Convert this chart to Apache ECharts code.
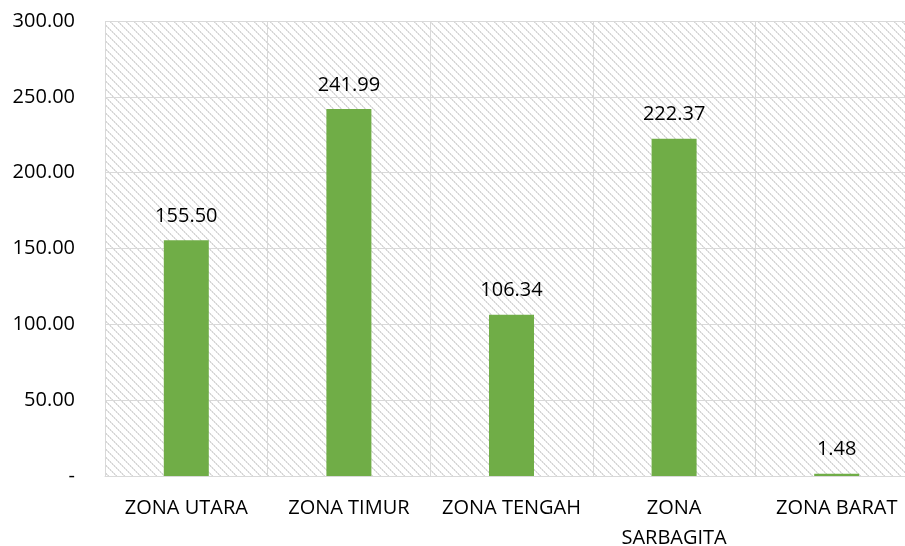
<!DOCTYPE html>
<html><head><meta charset="utf-8">
<script src="https://cdn.jsdelivr.net/npm/echarts@6/dist/echarts.min.js"></script>
<style>html,body{margin:0;padding:0;background:#fff}#c{width:905px;height:546px}</style>
</head><body><div id="c"></div>
<script>
var categories = ['ZONA UTARA', 'ZONA TIMUR', 'ZONA TENGAH', 'ZONA SARBAGITA', 'ZONA BARAT'];
var values = [155.50, 241.99, 106.34, 222.37, 1.48];
var yTicks = [0, 50, 100, 150, 200, 250, 300];

var pc = document.createElement('canvas');
pc.width = 8; pc.height = 8;
var ctx = pc.getContext('2d');
ctx.fillStyle = '#ffffff'; ctx.fillRect(0,0,8,8);
for (var i = 0; i < 8; i++) {
  ctx.fillStyle = (i % 2 === 0) ? '#d6d6d6' : '#e6e6e6';
  ctx.fillRect(i, i, 1, 1);
  ctx.fillStyle = (i % 2 === 0) ? '#e6e6e6' : '#d6d6d6';
  ctx.fillRect((i + 1) % 8, i, 1, 1);
}

var chart = echarts.init(document.getElementById('c'), null, {renderer: 'canvas'});
var font = '"Open Sans", sans-serif';
chart.setOption({
  animation: false,
  grid: {left: 105, width: 813, top: 21, height: 455, show: true, containLabel: false,
         outerBoundsMode: 'none',
         backgroundColor: {image: pc, repeat: 'repeat'}, borderWidth: 0},
  xAxis: {
    type: 'category', data: categories,
    axisLine: {show: true, lineStyle: {color: '#d9d9d9', width: 1}},
    axisTick: {show: false},
    splitLine: {show: true, lineStyle: {color: '#d9d9d9', width: 1}},
    axisLabel: {color: '#000', fontFamily: font, fontSize: 20, margin: 17, lineHeight: 30,
      interval: 0, hideOverlap: false,
      formatter: function (v) { return v === 'ZONA SARBAGITA' ? 'ZONA\nSARBAGITA' : v; }}
  },
  yAxis: {
    type: 'value', min: 0, max: 300, interval: 50,
    axisLine: {show: false}, axisTick: {show: false},
    splitLine: {show: true, lineStyle: {color: '#d9d9d9', width: 1}},
    axisLabel: {color: '#000', fontFamily: font, fontSize: 20, margin: 30,
      formatter: function (v) { return yTicks.indexOf(v) >= 0 && v === 0 ? '-' : v.toFixed(2); }}
  },
  series: [{
    type: 'bar', data: values, barWidth: 45,
    itemStyle: {color: '#70ad47'},
    label: {show: true, position: 'top', distance: 14, color: '#000', fontFamily: font, fontSize: 20,
      formatter: function (p) { return p.value.toFixed(2); }}
  }]
});
</script></body></html>
